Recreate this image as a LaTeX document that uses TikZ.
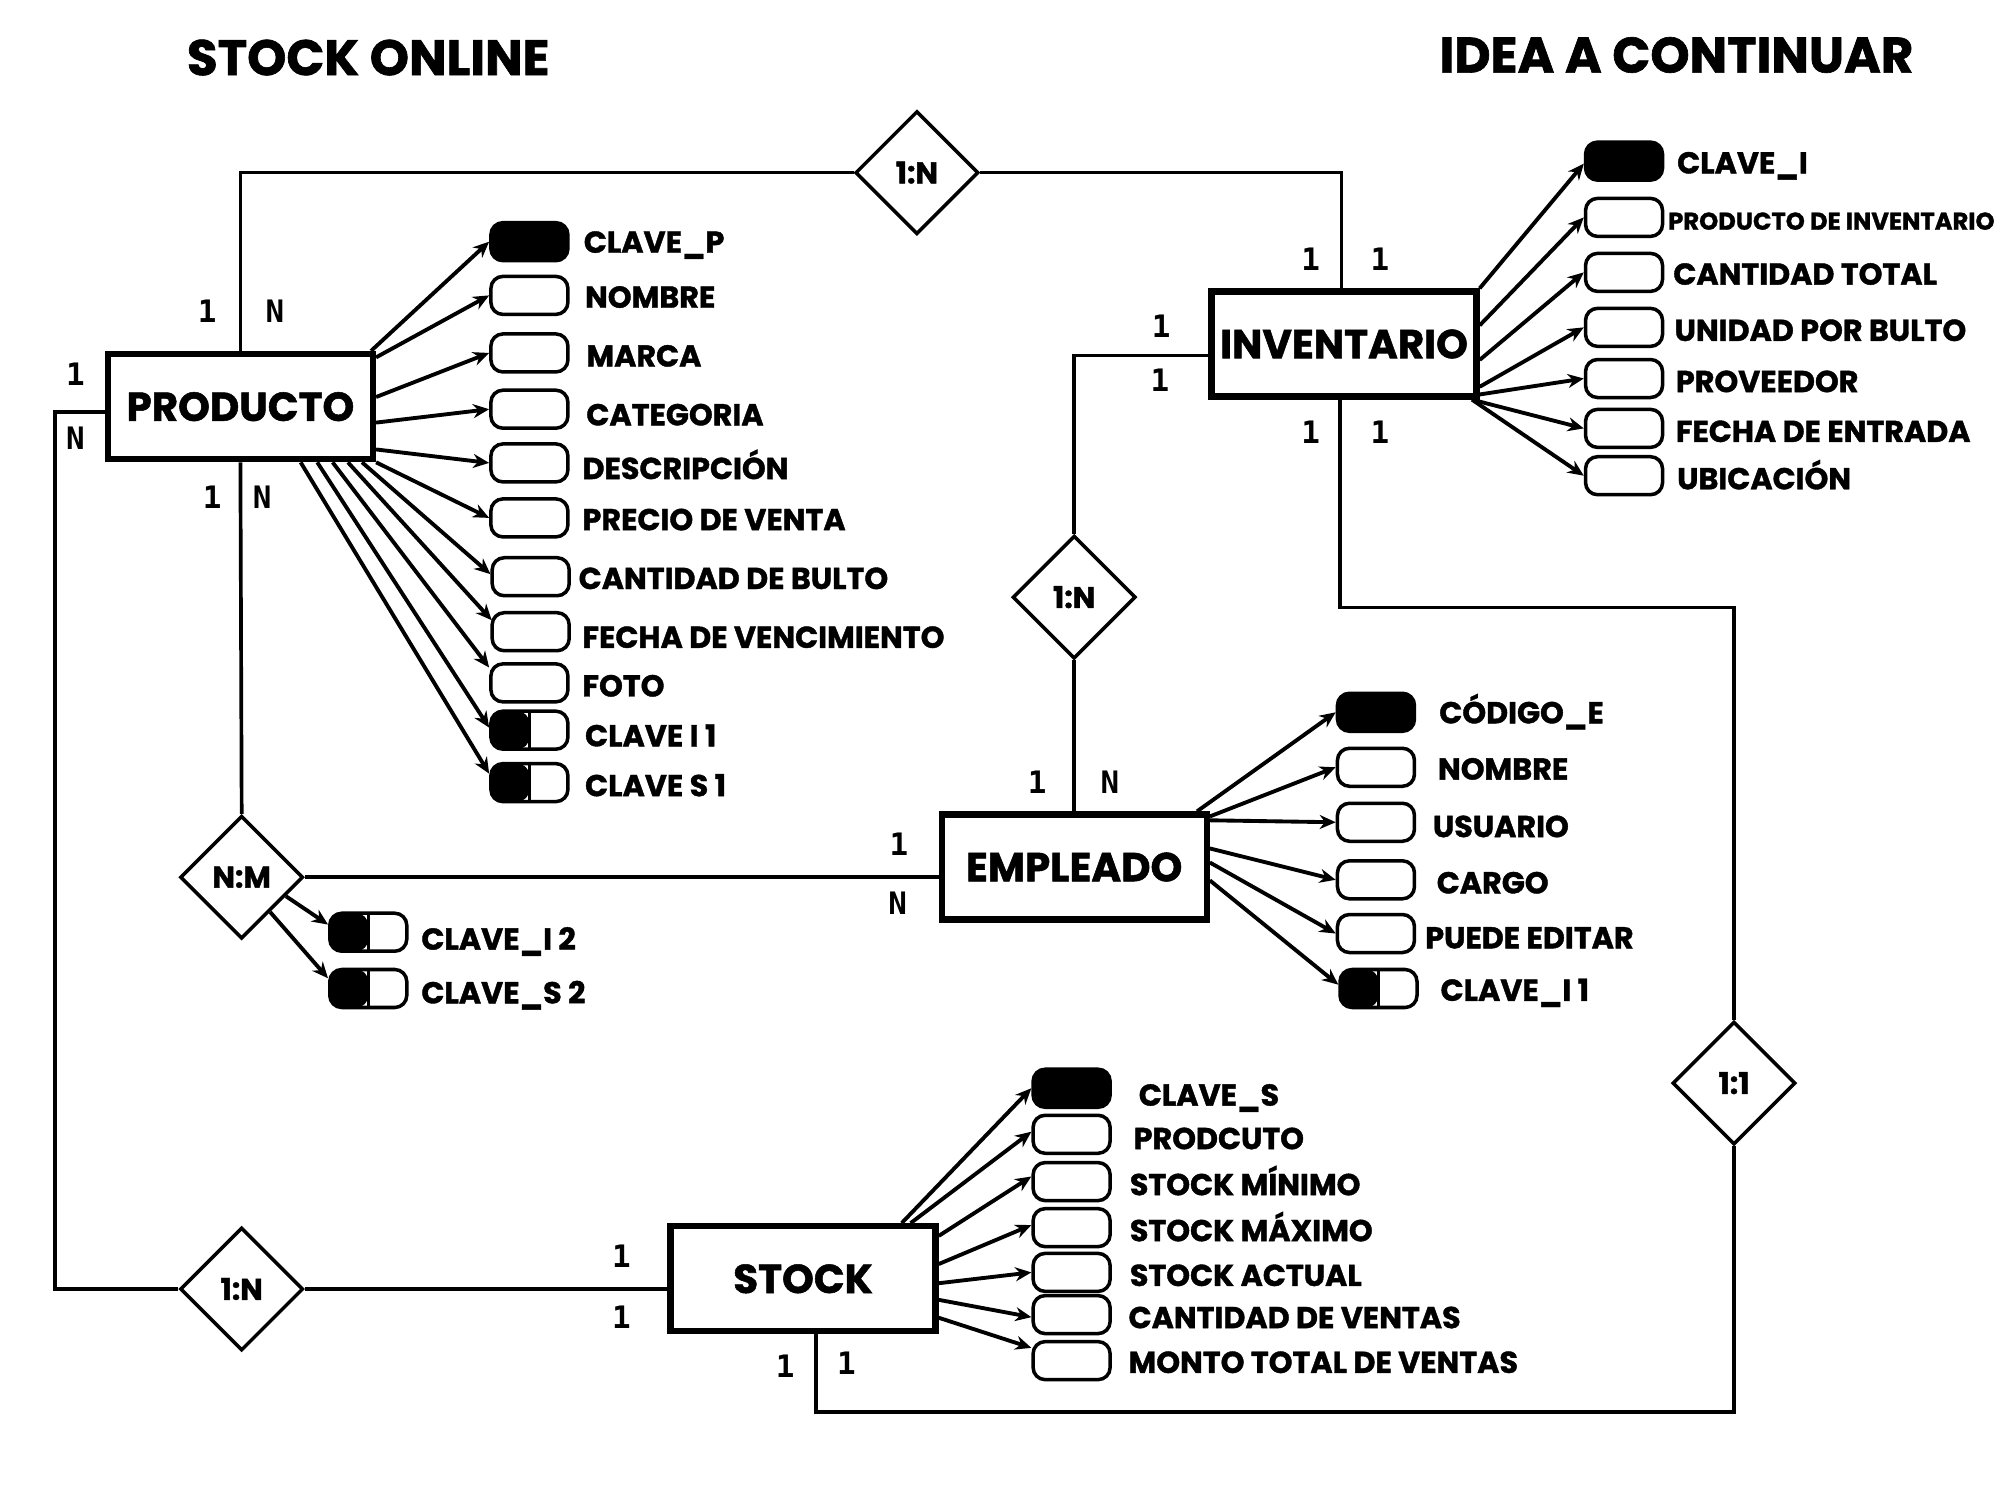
\documentclass[tikz,border=0pt]{standalone}
\usepackage{fontspec}
\setmainfont{Poppins}[BoldFeatures={FakeBold=1.3}]
\newfontfamily\cardfont{DejaVu Sans Mono}
\usetikzlibrary{shapes.geometric,arrows.meta,calc}
\tikzset{
 ent/.style={draw, line width=1.8pt, minimum width=2.65cm, minimum height=1.05cm, inner sep=0, font=\bfseries\fontsize{11.5}{12}\selectfont},
 rel/.style={draw, diamond, aspect=1, line width=1pt, minimum size=1.23cm, inner sep=0, fill=white, font=\bfseries\fontsize{8.5}{9}\selectfont},
 attr/.style={draw, line width=1pt, rounded corners=0.12cm, minimum width=0.77cm, minimum height=0.38cm, inner sep=0},
 keyattr/.style={attr, fill=black},
 fkattr/.style={attr, path picture={\fill[black] (path picture bounding box.south west) rectangle (path picture bounding box.north); \draw[line width=1pt] (path picture bounding box.south) -- (path picture bounding box.north);}},
 lbl/.style={anchor=west, inner sep=0, text height=0.7em, text depth=0pt, font=\bfseries\fontsize{8.6}{9}\selectfont},
 card/.style={inner sep=0, font=\cardfont\bfseries\fontsize{8.8}{9}\selectfont},
 link/.style={line width=1.05pt},
 arr/.style={line width=1.1pt, -{Stealth[length=0.16cm,width=0.14cm]}},
 ttl/.style={inner sep=0, font=\bfseries\fontsize{14.2}{16}\selectfont},
}
\begin{document}
\begin{tikzpicture}[x=0.012788cm,y=-0.012788cm]
\useasboundingbox (0,0) rectangle (1564,1173);
% titles
\node[ttl] (t1) at (288,45) {STOCK ONLINE};
\node[ttl] (t2) at (1311,43) {IDEA A CONTINUAR};
% entities
\node[ent] (prod) at (188,318) {PRODUCTO};
\node[ent] (inv) at (1051,269) {INVENTARIO};
\node[ent] (emp) at (840,678) {EMPLEADO};
\node[ent] (stk) at (628,1000) {STOCK};
% relationships
\node[rel] (r1) at (717,135) {1:N};
\node[rel] (r2) at (840,467) {1:N};
\node[rel] (r3) at (189,686) {N:M};
\node[rel] (r4) at (189,1008) {1:N};
\node[rel] (r5) at (1356,847) {1:1};
% connectors
\draw[link] (prod.north) |- (r1.west);
\draw[link] (r1.east) -| ($(inv.north)+(-2,0)$);
\draw[link] (prod.south) -- (r3.north);
\draw[link] (r3.east) -- (r3.east -| emp.west);
\coordinate (c1) at (43,1008);
\draw[link] ($(prod.west)+(0,4)$) -| (c1) -- (r4.west);
\draw[link] (r4.east) -- (r4.east -| stk.west);
\draw[link] ($(inv.west)+(0,9)$) -| (r2.north);
\draw[link] (r2.south) -- (emp.north);
\coordinate (c2) at (1356,475);
\draw[link] ($(inv.south)+(-3,0)$) |- (c2) -- (r5.north);
\coordinate (c3) at (1356,1104);
\draw[link] (r5.south) -- (c3) -| ($(stk.south)+(10,0)$);
% cardinalities
\node[card] (k1) at (162,243) {1};
\node[card] (k2) at (215,243) {N};
\node[card] (k3) at (1025,203) {1};
\node[card] (k4) at (1079,203) {1};
\node[card] (k5) at (166,389) {1};
\node[card] (k6) at (205,389) {N};
\node[card] (k7) at (59,293) {1};
\node[card] (k8) at (59,343) {N};
\node[card] (k9) at (703,660) {1};
\node[card] (k10) at (702,706) {N};
\node[card] (k11) at (486,982) {1};
\node[card] (k12) at (486,1030) {1};
\node[card] (k13) at (908,255) {1};
\node[card] (k14) at (907,297) {1};
\node[card] (k15) at (811,612) {1};
\node[card] (k16) at (868,612) {N};
\node[card] (k17) at (1025,338) {1};
\node[card] (k18) at (1079,338) {1};
\node[card] (k19) at (614,1068) {1};
\node[card] (k20) at (662,1066) {1};
% PRODUCTO attributes
\node[keyattr] (p1) at (414,189) {};
\node[attr] (p2) at (414,231) {};
\node[attr] (p3) at (414,276) {};
\node[attr] (p4) at (414,320) {};
\node[attr] (p5) at (414,362) {};
\node[attr] (p6) at (414,405) {};
\node[attr] (p7) at (415,451) {};
\node[attr] (p8) at (415,494) {};
\node[attr] (p9) at (414,534) {};
\node[fkattr] (p10) at (414,571) {};
\node[fkattr] (p11) at (414,612) {};
\node[lbl] (lp1) at (456,188) {CLAVE\_P};
\node[lbl] (lp2) at (457,231) {NOMBRE};
\node[lbl] (lp3) at (458,277) {MARCA};
\node[lbl] (lp4) at (458,323) {CATEGORIA};
\node[lbl] (lp5) at (455,365) {DESCRIPCIÓN};
\node[lbl] (lp6) at (455,405) {PRECIO DE VENTA};
\node[lbl] (lp7) at (452,451) {CANTIDAD DE BULTO};
\node[lbl] (lp8) at (455,497) {FECHA DE VENCIMIENTO};
\node[lbl] (lp9) at (455,535) {FOTO};
\node[lbl] (lp10) at (457,574) {CLAVE I 1};
\node[lbl] (lp11) at (457,613) {CLAVE S 1};
\draw[arr] ($(prod.north east)+(-4,0)$) -- (p1.west);
\draw[arr] ($(prod.north east)+(0,5)$) -- (p2.west);
\draw[arr] ($(prod.north east)+(0,36)$) -- (p3.west);
\draw[arr] ($(prod.north east)+(0,56)$) -- (p4.west);
\draw[arr] ($(prod.north east)+(0,77)$) -- (p5.west);
\draw[arr] (prod.south east) -- (p6.west);
\draw[arr] ($(prod.south east)+(-11,0)$) -- ($(p7.west)+(0,-2)$);
\draw[arr] ($(prod.south east)+(-22,0)$) -- ($(p8.west)+(1,-9)$);
\draw[arr] ($(prod.south east)+(-34,0)$) -- ($(p9.west)+(0,-12)$);
\draw[arr] ($(prod.south east)+(-46,0)$) -- ($(p10.west)+(0,-2)$);
\draw[arr] ($(prod.south east)+(-59,0)$) -- ($(p11.west)+(0,-7)$);
% INVENTARIO attributes
\node[keyattr] (i1) at (1270,126) {};
\node[attr] (i2) at (1270,170) {};
\node[attr] (i3) at (1270,213) {};
\node[attr] (i4) at (1270,256) {};
\node[attr] (i5) at (1270,296) {};
\node[attr] (i6) at (1270,335) {};
\node[attr] (i7) at (1270,372) {};
\node[lbl] (li1) at (1311,126) {CLAVE\_I};
\node[lbl, font=\bfseries\fontsize{6.9}{7}\selectfont] (li2) at (1304,170) {PRODUCTO DE INVENTARIO};
\node[lbl] (li3) at (1308,213) {CANTIDAD TOTAL};
\node[lbl] (li4) at (1309,257) {UNIDAD POR BULTO};
\node[lbl] (li5) at (1310,297) {PROVEEDOR};
\node[lbl] (li6) at (1310,336) {FECHA DE ENTRADA};
\node[lbl] (li7) at (1311,373) {UBICACIÓN};
\draw[arr] (inv.north east) -- ($(i1.west)+(0,2)$);
\draw[arr] ($(inv.north east)+(0,29)$) -- (i2.west);
\draw[arr] ($(inv.north east)+(0,56)$) -- (i3.west);
\draw[arr] ($(inv.north east)+(0,77)$) -- (i4.west);
\draw[arr] ($(inv.north east)+(0,83)$) -- (i5.west);
\draw[arr] ($(inv.south east)+(-6,0)$) -- (i6.west);
\draw[arr] ($(inv.south east)+(-6,0)$) -- (i7.west);
% EMPLEADO attributes
\node[keyattr] (e1) at (1076,557) {};
\node[attr] (e2) at (1076,600) {};
\node[attr] (e3) at (1076,643) {};
\node[attr] (e4) at (1076,688) {};
\node[attr] (e5) at (1076,730) {};
\node[fkattr] (e6) at (1078,773) {};
\node[lbl] (le1) at (1125,556) {CÓDIGO\_E};
\node[lbl] (le2) at (1124,600) {NOMBRE};
\node[lbl] (le3) at (1120,645) {USUARIO};
\node[lbl] (le4) at (1123,689) {CARGO};
\node[lbl] (le5) at (1114,732) {PUEDE EDITAR};
\node[lbl] (le6) at (1126,773) {CLAVE\_I 1};
\draw[arr] ($(emp.north east)+(-10,0)$) -- (e1.west);
\draw[arr] ($(emp.north east)+(0,4)$) -- (e2.west);
\draw[arr] ($(emp.north east)+(0,7)$) -- (e3.west);
\draw[arr] ($(emp.north east)+(0,29)$) -- (e4.west);
\draw[arr] ($(emp.north east)+(0,40)$) -- (e5.west);
\draw[arr] ($(emp.north east)+(0,54)$) -- ($(e6.west)+(0,-3)$);
% STOCK attributes
\node[keyattr] (s1) at (838,851) {};
\node[attr] (s2) at (838,887) {};
\node[attr] (s3) at (838,924) {};
\node[attr] (s4) at (838,960) {};
\node[attr] (s5) at (838,995) {};
\node[attr] (s6) at (838,1028) {};
\node[attr] (s7) at (838,1064) {};
\node[lbl] (ls1) at (890,855) {CLAVE\_S};
\node[lbl] (ls2) at (886,889) {PRODCUTO};
\node[lbl] (ls3) at (883,925) {STOCK MÍNIMO};
\node[lbl] (ls4) at (883,961) {STOCK MÁXIMO};
\node[lbl] (ls5) at (883,996) {STOCK ACTUAL};
\node[lbl] (ls6) at (882,1029) {CANTIDAD DE VENTAS};
\node[lbl] (ls7) at (882,1064) {MONTO TOTAL DE VENTAS};
\draw[arr] ($(stk.north east)+(-29,0)$) -- (s1.west);
\draw[arr] ($(stk.north east)+(-22,0)$) -- ($(s2.west)+(0,-2)$);
\draw[arr] ($(stk.north east)+(0,10)$) -- ($(s3.west)+(0,-4)$);
\draw[arr] ($(stk.north east)+(0,32)$) -- ($(s4.west)+(0,-2)$);
\draw[arr] ($(stk.north east)+(0,47)$) -- (s5.west);
\draw[arr] ($(stk.north east)+(0,60)$) -- ($(s6.west)+(0,2)$);
\draw[arr] ($(stk.north east)+(0,74)$) -- ($(s7.west)+(0,-10)$);
% N:M attributes
\node[fkattr] (n1) at (288,729) {};
\node[fkattr] (n2) at (288,773) {};
\node[lbl] (ln1) at (329,733) {CLAVE\_I 2};
\node[lbl] (ln2) at (329,775) {CLAVE\_S 2};
\draw[arr] ($(r3.east)!0.3!(r3.south)$) -- ($(n1.west)+(0,-6)$);
\draw[arr] ($(r3.east)!0.55!(r3.south)$) -- ($(n2.west)+(0,-8)$);
\end{tikzpicture}
\end{document}
